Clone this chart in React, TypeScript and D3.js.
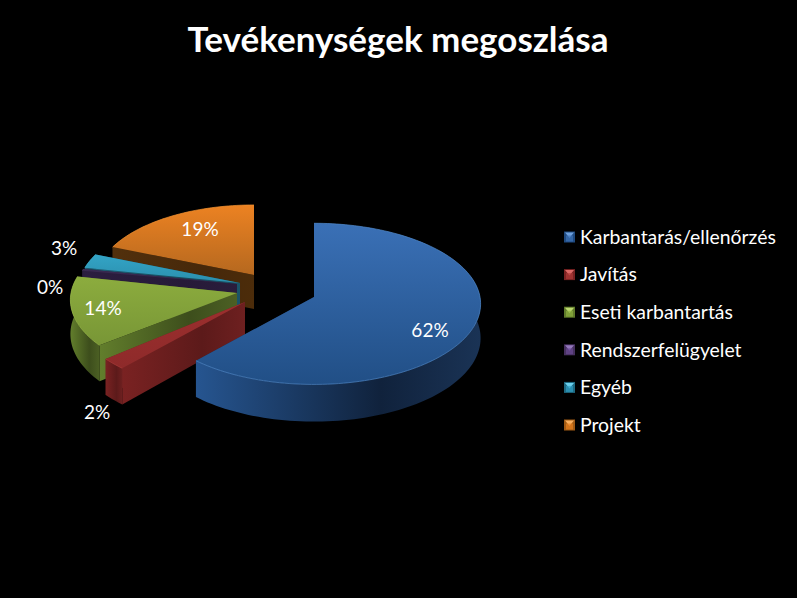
// Exploded 3D pie, "Tevékenységek megoszlása"
import React from "react";
import * as d3 from "d3";

const categories = [
	"Karbantarás/ellenőrzés",
	"Javítás",
	"Eseti karbantartás",
	"Rendszerfelügyelet",
	"Egyéb",
	"Projekt",
];
const shares = [61.6, 2.2, 14, 0.4, 3, 18.8];
const shareLabels = ["62%", "2%", "14%", "0%", "3%", "19%"];

const W = 797;
const H = 598;
const RX = 166;
const RY = 80;
const PERSP = 0.085;
const DEPTH = 34;
const FONT = "Lato, 'Open Sans', sans-serif";

// where each exploded slice has its tip, its foreshortening and how its label sits
const layout = [
	{ ax: 314, ay: 297, k: 1, rot: 0, lx: 430, ly: 330 },
	{ ax: 245, ay: 302, k: 1.04, rot: 0, lx: 97, ly: 412 },
	{ ax: 237, ay: 293, k: 1, rot: 2, lx: 103, ly: 308 },
	{ ax: 237, ay: 284, k: 0.96, rot: 0, lx: 50, ly: 287 },
	{ ax: 240, ay: 283, k: 0.97, rot: 0, lx: 64, ly: 248 },
	{ ax: 254, ay: 275, k: 0.95, rot: 0, lx: 200, ly: 229 },
];

const colors = [
	{ top0: "#3a70b6", top1: "#214f86", wall0: "#265590", wall1: "#10223c", wall2: "#1a3355", edge: "#4f86c6", mark: "#3f74b8", markDark: "#1f4a80", markHi: "#6ea0dc" },
	{ top0: "#9c2f2e", top1: "#8e2a2a", wall0: "#7a2222", wall1: "#5c1a1a", wall2: "#6e2020", edge: "#a83a38", mark: "#b03a38", markDark: "#7a2222", markHi: "#dc6a66" },
	{ top0: "#8cac3e", top1: "#789636", wall0: "#627e2c", wall1: "#3d4e1c", wall2: "#4c6024", edge: "#9aba48", mark: "#8fb040", markDark: "#5f7a2a", markHi: "#bcd870" },
	{ top0: "#3a2a52", top1: "#33244a", wall0: "#2c1e40", wall1: "#261a38", wall2: "#2a1d3c", edge: "#46345f", mark: "#6a4a94", markDark: "#46305f", markHi: "#9478bc" },
	{ top0: "#33a4c6", top1: "#2b8fad", wall0: "#1e6076", wall1: "#174a5c", wall2: "#1a5468", edge: "#40b0d0", mark: "#30a0c4", markDark: "#1e6a82", markHi: "#6cd0ec" },
	{ top0: "#ec8222", top1: "#b5681f", wall0: "#52300c", wall1: "#46280a", wall2: "#4c2c0a", edge: "#f09030", mark: "#e88020", markDark: "#a05a14", markHi: "#f8b060" },
];

const legendY = d3
	.scalePoint<string>()
	.domain(categories)
	.range([237, 425]);

const pieGen = d3
	.pie<number>()
	.sort(null)
	.value((d) => d)
	.startAngle(0)
	.endAngle(2 * Math.PI);

type Pt = [number, number];
type Slice = (typeof layout)[number];

const project = (s: Slice, theta: number, down = 0): Pt => {
	const t = theta + (s.rot * Math.PI) / 180;
	const w = 1 + PERSP * Math.cos(t);
	return [
		s.ax + (s.k * RX * Math.sin(t)) / w,
		s.ay - (s.k * RY * Math.cos(t)) / w + down / w,
	];
};

const lineGen = d3.line<Pt>();

const arcPts = (s: Slice, a0: number, a1: number, down = 0): Pt[] => {
	const n = Math.max(2, Math.ceil((a1 - a0) / 0.03));
	return d3.range(n + 1).map((i) => project(s, a0 + ((a1 - a0) * i) / n, down));
};

export default function App() {
	const arcs = pieGen(shares);
	// painted back to front
	const order = [5, 4, 3, 2, 1, 0];

	return (
		<svg
			width={W}
			height={H}
			viewBox={`0 0 ${W} ${H}`}
			style={{ position: "absolute", left: 0, top: 0, background: "#000", fontFamily: FONT }}
		>
			<defs>
				{colors.map((c, i) => (
					<g key={i}>
						<linearGradient id={`top${i}`} x1="0" y1="0" x2="0" y2="1">
							<stop offset="0%" stopColor={c.top0} />
							<stop offset="100%" stopColor={c.top1} />
						</linearGradient>
						<linearGradient id={`wall${i}`} x1="0" y1="0" x2="1" y2="0">
							<stop offset="0%" stopColor={c.wall0} />
							<stop offset="65%" stopColor={c.wall1} />
							<stop offset="100%" stopColor={c.wall2} />
						</linearGradient>
					</g>
				))}
			</defs>

			<text x={398} y={52} textAnchor="middle" fill="#fff" fontSize={35} fontWeight={700}>
				Tevékenységek megoszlása
			</text>

			{order.map((i) => {
				const a = arcs[i];
				const s = layout[i];
				const top = arcPts(s, a.startAngle, a.endAngle);
				const bottom = arcPts(s, a.startAngle, a.endAngle, DEPTH);
				const apex: Pt = [s.ax, s.ay];
				const apexDown: Pt = [s.ax, s.ay + DEPTH];
				const topShape = lineGen([apex, ...top])! + "Z";
				const wallOuter = lineGen([...top, ...bottom.slice().reverse()])! + "Z";
				const wallStart = lineGen([apex, top[0], bottom[0], apexDown])! + "Z";
				const wallEnd =
					lineGen([apex, top[top.length - 1], bottom[bottom.length - 1], apexDown])! + "Z";
				const c = colors[i];
				return (
					<g key={categories[i]}>
						<path d={wallEnd} fill={c.wall2} />
						<path d={wallStart} fill={`url(#wall${i})`} />
						<path d={wallOuter} fill={`url(#wall${i})`} />
						<path d={topShape} fill={`url(#top${i})`} />
						<path d={lineGen(top)!} fill="none" stroke={c.edge} strokeWidth={1} opacity={0.7} />
					</g>
				);
			})}

			{shareLabels.map((label, i) => (
				<text
					key={i}
					x={layout[i].lx}
					y={layout[i].ly}
					dy="0.35em"
					textAnchor="middle"
					fill="#fff"
					fontSize={19}
				>
					{label}
				</text>
			))}

			{categories.map((name, i) => {
				const y = legendY(name)!;
				const c = colors[i];
				const s = 11;
				const x0 = 564;
				const y0 = y - s / 2;
				return (
					<g key={name}>
						<rect x={x0} y={y0} width={s} height={s} fill={c.markDark} />
						<path
							d={lineGen([
								[x0 + 1, y0 + 1],
								[x0 + s - 1, y0 + 1],
								[x0 + s / 2, y0 + s / 2 + 1],
							])! + "Z"}
							fill={c.markHi}
						/>
						<rect x={x0 + 2} y={y0 + 4} width={s - 4} height={s - 5} fill={c.mark} opacity={0.7} />
						<text x={580} y={y} dy="0.35em" fill="#fff" fontSize={19.4}>
							{name}
						</text>
					</g>
				);
			})}
		</svg>
	);
}
